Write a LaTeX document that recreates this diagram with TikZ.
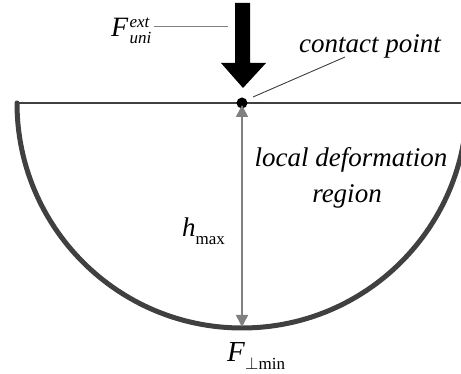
\documentclass[tikz,border=0pt]{standalone}
\usepackage{fontspec}
\setmainfont{Liberation Serif}
\usetikzlibrary{arrows.meta}
\definecolor{arcgray}{HTML}{404040}
\definecolor{dimgray}{HTML}{808080}
\begin{document}
\begin{tikzpicture}[x=1pt,y=-1pt,
  lbl/.style={inner sep=0pt,font=\fontsize{27}{29}\selectfont\itshape},
  leader/.style={line width=0.9pt},
  dim/.style={dimgray,line width=1.5pt,{Triangle[length=12pt,width=12pt]}-{Triangle[length=12pt,width=12pt]}}]
\useasboundingbox (0,0) rectangle (461,374);
\begin{scope}
\clip (0,0) rectangle (461,374);
% surface line and arc
\coordinate (L) at (17,103);
\coordinate (R) at (461,103);
\coordinate (C) at (242,103);
\draw[arcgray,line width=1.3pt] (L) -- (R);
\draw[arcgray,line width=5pt,line cap=round] (L) arc[start angle=180,end angle=0,radius=225];
\end{scope}
% big force arrow
\fill[black] (235,3) -- (250,3) -- (250,63) -- (266,63) -- (243,88) -- (221,63) -- (235,63) -- cycle;
% contact dot
\fill[black] (C) circle[radius=5.5];
% dimension arrow
\coordinate (dtop) at (242,105);
\coordinate (dbot) at (242,327);
\draw[dim] (dtop) -- (dbot);
% labels
\node[inner sep=0pt,anchor=base west] (fext) at (111,37) {\fontsize{28}{28}\selectfont\textit{F}\kern1pt$^{\hbox{\fontsize{17}{17}\selectfont\itshape ext}}_{\hbox{\fontsize{17}{17}\selectfont\itshape uni}}$};
\coordinate (fl1) at (154,27);
\coordinate (fl2) at (228,27);
\draw[dimgray,line width=1pt] (fl1) -- (fl2);
\node[lbl,anchor=base] (cp) at (370,53) {contact point};
\coordinate (cl1) at (253,97);
\coordinate (cl2) at (345,57);
\draw[arcgray,leader] (cl1) -- (cl2);
\node[lbl,anchor=base] (ldr) at (351,167) {local deformation};
\node[lbl,anchor=base] (rg) at (347,203) {region};
\node[inner sep=0pt,anchor=base west] (h) at (182,237) {\fontsize{27}{27}\selectfont\textit{h}\raisebox{-8pt}{\fontsize{17}{17}\selectfont max}};
\node[inner sep=0pt,anchor=base west] (fmin) at (227,362) {\fontsize{29}{29}\selectfont\textit{F}\raisebox{-8pt}{\fontsize{17}{17}\selectfont$\perp$min}};
\end{tikzpicture}
\end{document}
